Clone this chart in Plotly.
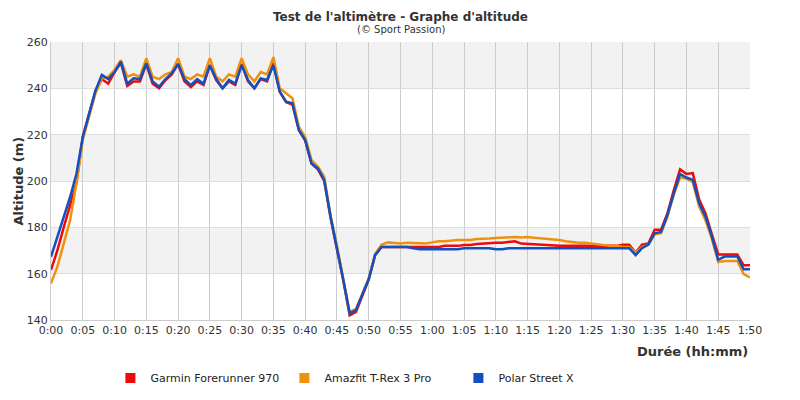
import plotly.graph_objects as go

minutes = list(range(0, 111))

garmin = [161.6, 170, 180, 189, 199, 219, 229, 239, 244, 242, 247,
          251, 241, 243, 243, 250.5, 242, 240, 243.5, 246, 250.5,
          243, 240.5, 243, 241.5, 250, 243.5, 240, 243, 241.5, 250.5,
          243, 240, 244, 243, 251, 238.5, 234, 233, 222, 217.5,
          207.5, 205, 200, 184, 171, 157, 142, 143.5, 150.5, 157.5,
          168, 171.5, 171.5, 171.5, 171.5, 171.5, 171.5, 171.5, 171.5, 171.5,
          171.5, 172, 172, 172, 172.4, 172.4, 172.8, 173, 173.3, 173.3,
          173.3, 173.8, 174, 173, 172.8, 172.8, 172.5, 172.3, 172, 172,
          172, 172, 172, 172, 172, 172, 172, 172, 172, 172.5,
          172.5, 169, 172.5, 173, 179, 179, 186, 196, 205, 203,
          203.4, 192, 186, 177, 168.3, 168.3, 168.3, 168.3, 163.6, 163.6]

amazfit = [155.8, 163, 173, 183, 199, 217.7, 227.8, 237.8, 244.3, 245, 248,
           252.2, 245, 246, 245, 253, 245, 244, 246, 247, 253,
           245, 244, 246, 245, 253, 245, 243, 246, 245, 253,
           246, 243, 247, 246, 253.5, 240, 237.8, 235.7, 223.5, 219,
           209, 206.2, 201.9, 185, 172, 157.5, 143.5, 144.8, 151, 158,
           168.5, 172.5, 173.5, 173.3, 173, 173.3, 173.3, 173.3, 173, 173.5,
           174, 174, 174.3, 174.5, 174.5, 174.5, 175, 175, 175.2, 175.4,
           175.6, 175.8, 175.8, 175.6, 175.8, 175.5, 175.3, 175, 175, 174.5,
           174, 173.5, 173.3, 173.3, 173, 172.5, 172.3, 172, 172, 171.5,
           171.5, 169, 171.5, 172.5, 177, 177.5, 184.5, 194, 201.5, 201,
           199.5, 189, 183, 175, 165, 165.5, 165.5, 165.5, 159.8, 158.4]

polar = [167.3, 176, 184.6, 193, 203, 219, 229, 239, 245.8, 244, 247,
         251.5, 242, 244.3, 244, 250.8, 243, 240.7, 244, 246.5, 250.5,
         244, 241.4, 244, 242, 250, 244, 240, 243.6, 242, 250,
         243.6, 240, 244.3, 243.6, 250, 238.6, 234.2, 233.5, 222, 217.7,
         207.6, 205.5, 200.4, 184.6, 171.6, 157.3, 142.9, 144.3, 151, 157.6,
         168, 171.5, 171.5, 171.5, 171.5, 171.5, 171, 170.5, 170.5, 170.5,
         170.5, 170.5, 170.5, 170.5, 171, 171, 171, 171, 171, 170.5,
         170.5, 171, 171, 171, 171, 171, 171, 171, 171, 171,
         171, 171, 171, 171, 171, 171, 171, 171, 171, 171,
         171, 168, 171, 172.6, 177.4, 178, 185.3, 194.7, 203, 201.5,
         200.5, 190.4, 184.6, 176, 166, 167.4, 167.4, 167.4, 161.9, 161.9]

tick_vals = list(range(0, 111, 5))
tick_text = ["0:00", "0:05", "0:10", "0:15", "0:20", "0:25", "0:30", "0:35",
             "0:40", "0:45", "0:50", "0:55", "1:00", "1:05", "1:10", "1:15",
             "1:20", "1:25", "1:30", "1:35", "1:40", "1:45", "1:50"]

series = [("Garmin Forerunner 970", garmin, "#ee0a0a"),
          ("Amazfit T-Rex 3 Pro", amazfit, "#f0900f"),
          ("Polar Street X", polar, "#1050c0")]

fig = go.Figure()
for name, vals, col in series:
    fig.add_trace(go.Scatter(x=minutes, y=vals, name=name, mode="lines", legendgroup=name,
                             showlegend=False, line=dict(color=col, width=2.5)))
# entrées de légende carrées
for name, vals, col in series:
    fig.add_trace(go.Scatter(x=[None], y=[None], name=name, mode="markers", legendgroup=name,
                             marker=dict(symbol="square", size=10, color=col)))

# bandes grises alternées
for y0 in (160, 200, 240):
    fig.add_shape(type="rect", xref="x", yref="y", x0=0, x1=110, y0=y0, y1=y0 + 20,
                  fillcolor="#f2f2f2", line_width=0, layer="below")

# la page ajoute 8px de marge au body : on compense
fig.update_layout(
    width=800, height=400,
    margin=dict(l=43, r=58, t=34, b=88),
    plot_bgcolor="white", paper_bgcolor="white",
    font=dict(family="DejaVu Sans", size=11, color="#333"),
    legend=dict(orientation="h", x=0.085, y=-0.209, xanchor="left", yanchor="middle",
                font=dict(size=11, color="#222"), itemwidth=30,
                entrywidth=129, entrywidthmode="pixels"),
    annotations=[
        dict(text="<b>Test de l'altimètre - Graphe d'altitude</b>", xref="paper", yref="paper",
             x=0.5, y=1.122, xanchor="center", yanchor="top", showarrow=False,
             font=dict(size=12, color="#333")),
        dict(text="(© Sport Passion)", xref="paper", yref="paper", x=0.5, y=1.045,
             xanchor="center", yanchor="middle", showarrow=False, font=dict(size=10, color="#333")),
        dict(text="<b>Durée (hh:mm)</b>", xref="paper", yref="paper", x=1.0, y=-0.115,
             xanchor="right", yanchor="middle", showarrow=False, font=dict(size=13, color="#333")),
        dict(text="<b>Altitude (m)</b>", xref="paper", yref="paper", x=-0.0615, y=0.5,
             xanchor="left", yanchor="middle", textangle=-90, showarrow=False,
             font=dict(size=13, color="#333")),
    ],
)
fig.update_xaxes(range=[0, 110], tickvals=tick_vals, ticktext=tick_text, showgrid=True,
                 gridcolor="#cccccc", zeroline=False, showline=True, linecolor="#cccccc",
                 tickfont=dict(size=11), ticks="", automargin=False)
fig.update_yaxes(range=[140, 260], dtick=20, showgrid=True, gridcolor="#dddddd",
                 zeroline=False, showline=True, linecolor="#cccccc", tickfont=dict(size=11),
                 automargin=False)
fig.write_html("out.html")
